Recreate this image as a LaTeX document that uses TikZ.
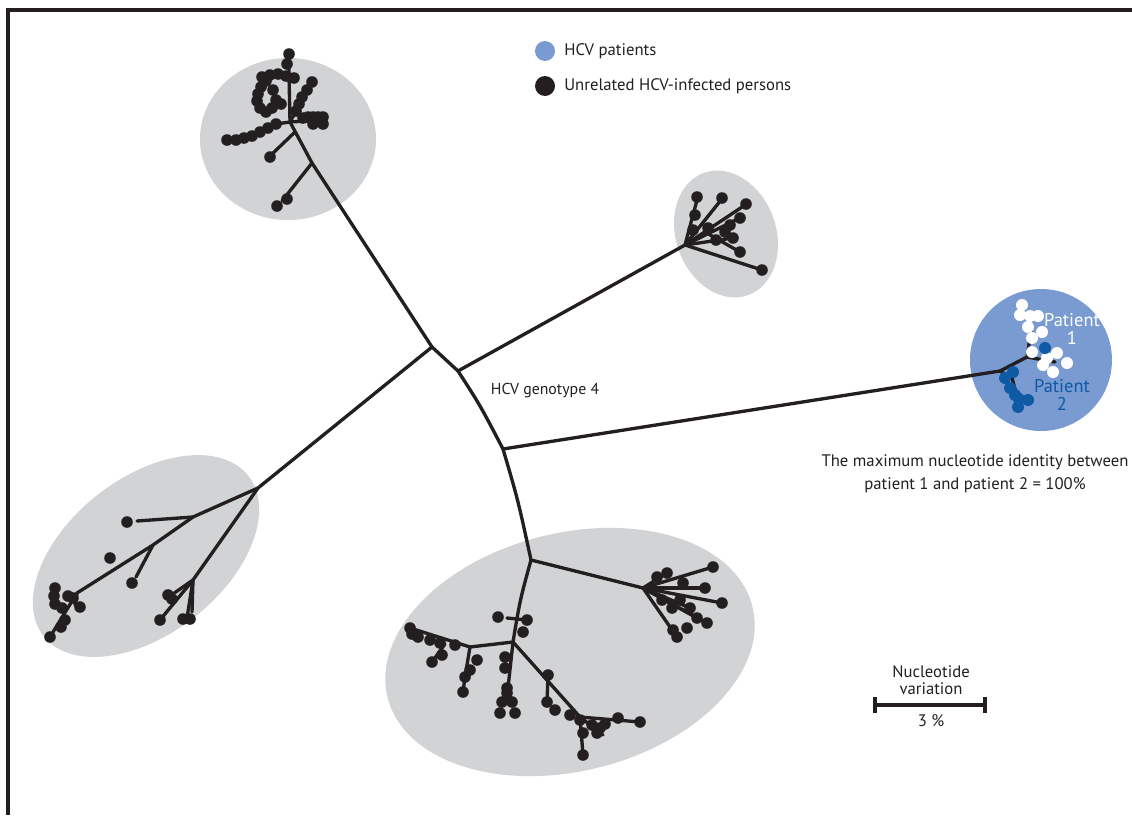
\documentclass[tikz,border=0pt]{standalone}
\usepackage{fontspec}
\setmainfont{PT Sans}
\definecolor{ellgray}{RGB}{209,211,212}
\definecolor{patblue}{RGB}{122,155,210}
\definecolor{dkblue}{RGB}{14,90,165}
\definecolor{inkc}{RGB}{35,31,32}
\tikzset{
  br/.style={line width=1.9pt, line cap=round, line join=round, draw=inkc},
  ell/.style={fill=ellgray},
  lbl/.style={font=\fontsize{9.5}{11}\selectfont, text=inkc, inner sep=0pt},
}
\newcommand\dts[1]{\foreach \p in {#1} {\fill[inkc] \p circle (5.8);}}
\newcommand\wdts[1]{\foreach \p in {#1} {\fill[white] \p circle (6);}}
\newcommand\bdts[1]{\foreach \p in {#1} {\fill[dkblue] \p circle (6);}}
\begin{document}
\begin{tikzpicture}[x=0.02cm,y=-0.02cm]
\useasboundingbox (0,0) rectangle (1132,815);
% frame
\draw[line width=2.2pt, inkc] (8,815) -- (8,10) -- (1132,10);
% ellipses
\fill[ell] (288,139) ellipse [x radius=88, y radius=81];
\fill[ell, rotate around={20:(726,234)}] (726,234) ellipse [x radius=50, y radius=65];
\fill[ell, rotate around={38:(146,556)}] (146,556) ellipse [x radius=130, y radius=78];
\fill[ell, rotate around={14:(570,652)}] (570,652) ellipse [x radius=188, y radius=119];
\fill[patblue] (1041,360) circle (71);
% legend
\fill[patblue] (545,51) circle (10);
\fill[inkc] (545,86) circle (10);
\node[lbl, anchor=west] (lg1) at (564,51) {HCV patients};
\node[lbl, anchor=west] (lg2) at (564,86) {Unrelated HCV-infected persons};
% backbone
\coordinate (N1) at (432,347);
\coordinate (N2) at (458,371);
\coordinate (N3) at (503,449);
\coordinate (N4) at (531,560);
\coordinate (T1) at (312,163);
\coordinate (T2) at (290,122);
\coordinate (R0) at (685,245);
\coordinate (L0) at (258,488);
\coordinate (P0) at (1000,371);
\draw[br] (N1) -- (N2) .. controls (480,405) .. (N3) .. controls (518,500) .. (N4);
\draw[br] (N1) -- (T1) -- (T2);
\draw[br] (N2) -- (R0);
\draw[br] (N1) -- (L0);
\draw[br] (N3) -- (P0);
% ---- top cluster
\coordinate (T3) at (295,132);
\draw[br] (T1) -- (282,201);
\dts{(277,206),(287,199)}
\draw[br] (T3) -- (271,155);
\dts{(270,157)}
\draw[br] (T2) -- (276,124) -- (252,135) -- (227,140);
\dts{(227,140),(236,140),(244,138),(252,136),(260,132),(268,128),(276,124)}
\draw[br] (T2) -- (289,75) -- (289,54);
\dts{(289,54),(287,64),(262,77),(270,75),(278,74),(286,76),(294,78)}
\dts{(266,81),(261,87),(258,94),(257,101),(260,108),(266,112),(273,90),(276,100),(272,108),(281,104)}
\draw[br] (T2) -- (312,82);
\draw[br] (T2) -- (323,120);
\dts{(312,82),(307,90),(302,97),(299,104),(303,118),(308,117),(313,117),(318,117),(323,117),(323,124),(313,124),(296,111)}
% ---- top-right cluster
\draw[br] (R0) -- (762,270);
\dts{(762,270)}
\draw[br] (R0) -- (697,200);
\draw[br] (R0) -- (721,200);
\draw[br] (R0) -- (745,205);
\draw[br] (R0) -- (740,218);
\draw[br] (R0) -- (733,238);
\draw[br] (705,232) -- (740,252);
\dts{(697,197),(722,198),(746,204),(740,218),(733,238),(740,252),(693,230),(695,215),(708,228),(716,240),(725,232),(730,225)}
% ---- bottom-left cluster
\coordinate (L1) at (193,517);
\coordinate (L2) at (153,545);
\coordinate (L3) at (77,593);
\coordinate (L4) at (193,580);
\draw[br] (L0) -- (L1) -- (L2) -- (L3) -- (50,637);
\draw[br] (L1) -- (137,521);
\draw[br] (L2) -- (136,577);
\draw[br] (L0) -- (L4) -- (160,620);
\draw[br] (L4) -- (187,618);
\draw[br] (L4) -- (192,612);
\draw[br] (L4) -- (170,596);
\draw[br] (L3) -- (75,605);
\dts{(127,522),(132,583),(110,558),(55,588),(54,596),(55,604),(68,596),(73,598),(80,607),(62,608),(65,620),(61,627),(50,637),(160,620),(183,619),(190,619),(168,595),(172,599)}
% ---- patients
\coordinate (P1) at (1027,357);
\draw[br] (P0) -- (P1) -- (1032,325);
\draw[br] (P1) -- (1055,362);
\draw[br] (P0) -- (1012,378) -- (1018,400);
\wdts{(1022,305),(1020,315),(1030,316),(1038,316),(1028,327),(1042,332),(1032,338),(1032,352),(1057,353),(1043,365),(1053,372),(1067,363),(1047,358)}
\bdts{(1045,348),(1013,372),(1005,378),(1010,388),(1015,395),(1019,399),(1028,400),(1018,407)}
\node[font=\fontsize{10.5}{11}\selectfont, text=white, align=center, inner sep=0pt] (pt1) at (1072,329) {Patient\\[-1pt]1};
\node[font=\fontsize{10.5}{11}\selectfont, text=dkblue, align=center, inner sep=0pt] (pt2) at (1062,395) {Patient\\[-1pt]2};
% ---- bottom cluster
\coordinate (B1) at (643,588);
\coordinate (B2) at (513,642);
\coordinate (B3) at (580,717);
\draw[br] (N4) -- (B1);
\foreach \q in {(713,567),(705,588),(722,603),(707,623),(677,637),(697,618),(690,608),(667,573)} {\draw[br] (B1) -- \q;}
\dts{(713,567),(705,588),(722,603),(707,623),(677,637),(697,618),(690,608),(667,573),(657,577),(683,583),(673,630),(687,628),(672,608),(680,600),(662,600)}
\draw[br] (N4) .. controls (520,600) .. (B2);
\draw[br] (507,618) -- (527,620);
\dts{(498,617),(527,620),(523,632)}
\draw[br] (B2) -- (470,647) -- (410,628);
\draw[br] (470,647) -- (465,677) -- (463,692);
\draw[br] (445,644) -- (432,662);
\dts{(410,628),(412,634),(418,637),(430,640),(440,643),(455,645),(432,662),(442,655),(465,677),(463,692),(477,660),(470,670)}
\draw[br] (B2) -- (507,697);
\dts{(505,657),(505,668),(507,688),(507,693),(502,702),(512,702),(500,713),(515,713)}
\draw[br] (B2) -- (B3) -- (640,722);
\draw[br] (B3) -- (583,755);
\draw[br] (B3) -- (603,735);
\draw[br] (548,675) -- (547,702);
\dts{(548,675),(547,702),(555,710),(570,715),(580,720),(583,733),(583,755),(618,718),(640,722),(597,733),(600,728),(605,724),(592,725)}
% labels
\node[lbl, font=\fontsize{9}{11}\selectfont] (geno) at (545,391) {HCV genotype 4};
\node[lbl, align=center] (ident) at (975,474) {The maximum nucleotide identity between\\[2pt]patient 1 and patient 2 = 100\%};
% scale bar
\coordinate (S1) at (875,705);
\coordinate (S2) at (985,705);
\draw[line width=1.9pt, inkc] (S1) -- (S2);
\draw[line width=1.9pt, inkc] (875,697) -- (875,713);
\draw[line width=1.9pt, inkc] (985,697) -- (985,713);
\node[lbl, align=center] (nv) at (931,680) {Nucleotide\\[-1pt]variation};
\node[lbl] (pc) at (931,721) {3 \%};
\end{tikzpicture}
\end{document}
